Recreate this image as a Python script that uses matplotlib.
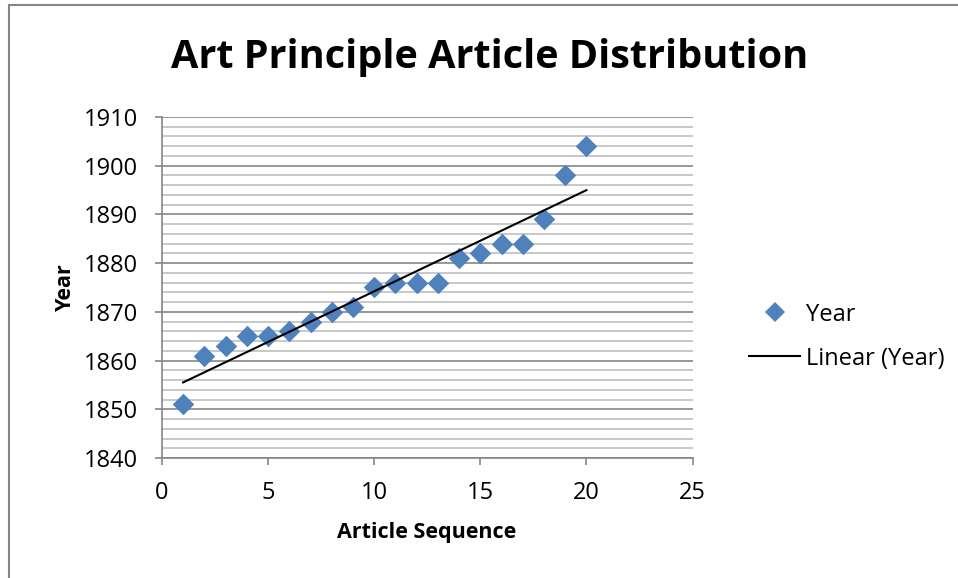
import numpy as np
import matplotlib.pyplot as plt
from matplotlib.lines import Line2D
from matplotlib.ticker import MultipleLocator

plt.rcParams['font.family'] = ['Open Sans', 'DejaVu Sans']

seq = [1, 2, 3, 4, 5, 6, 7, 8, 9, 10, 11, 12, 13, 14, 15, 16, 17, 18, 19, 20]
year = [1851, 1861, 1863, 1865, 1865, 1866, 1868, 1870, 1871, 1875,
        1876, 1876, 1876, 1881, 1882, 1884, 1884, 1889, 1898, 1904]

fig = plt.figure(figsize=(9.58, 5.78), dpi=100)
ax = fig.add_axes([0.169, 0.2076, 0.554, 0.59])

# outer chart frame (only top and left edges are visible)
fig.add_artist(plt.Rectangle((9 / 958, -0.1), 1.2, 1 - 5 / 578 + 0.1,
                             transform=fig.transFigure, fill=False,
                             edgecolor='#868686', linewidth=1.5))

ax.set_xlim(0, 25)
ax.set_ylim(1840, 1910)
ax.yaxis.set_major_locator(MultipleLocator(10))
ax.yaxis.set_minor_locator(MultipleLocator(2))
ax.xaxis.set_major_locator(MultipleLocator(5))
ax.grid(which='major', axis='y', color='#868686', linewidth=1.2)
ax.grid(which='minor', axis='y', color='#bfbfbf', linewidth=1.2)
ax.set_axisbelow(True)

for s in ['top', 'right']:
    ax.spines[s].set_visible(False)
for s in ['left', 'bottom']:
    ax.spines[s].set_color('#868686')
    ax.spines[s].set_linewidth(1.2)
ax.tick_params(which='major', direction='out', length=5, color='#868686',
               width=1.2, labelsize=17)
ax.tick_params(axis='y', pad=12)
ax.tick_params(axis='x', pad=11.5)
ax.tick_params(which='minor', length=0)

ax.scatter(seq, year, marker='D', s=120, color='#4f81bd', zorder=3,
           linewidths=0)

# linear trendline
m, b = np.polyfit(seq, year, 1)
xs = np.array([seq[0], seq[-1]])
ax.plot(xs, m * xs + b, color='black', linewidth=1.5, zorder=4)

ax.set_xlabel('Article Sequence', fontsize=15.5, fontweight='bold')
ax.set_ylabel('Year', fontsize=15.5, fontweight='bold')
ax.xaxis.set_label_coords(0.498, -0.188)
ax.yaxis.set_label_coords(-0.162, 0.5)
fig.text(0.5115, 0.901, 'Art Principle Article Distribution', ha='center',
         va='center', fontsize=28.5, fontweight='bold')

handles = [Line2D([], [], marker='D', linestyle='none', color='#4f81bd',
                  markersize=10, markeredgewidth=0),
           Line2D([], [], color='black', linewidth=1.5)]
fig.legend(handles, ['Year', 'Linear (Year)'], loc='center left',
           bbox_to_anchor=(0.772, 0.4175), borderaxespad=0, frameon=False,
           fontsize=17, handlelength=2.16, handletextpad=0.25,
           labelspacing=0.85)

fig.savefig('out.png', dpi=100)
